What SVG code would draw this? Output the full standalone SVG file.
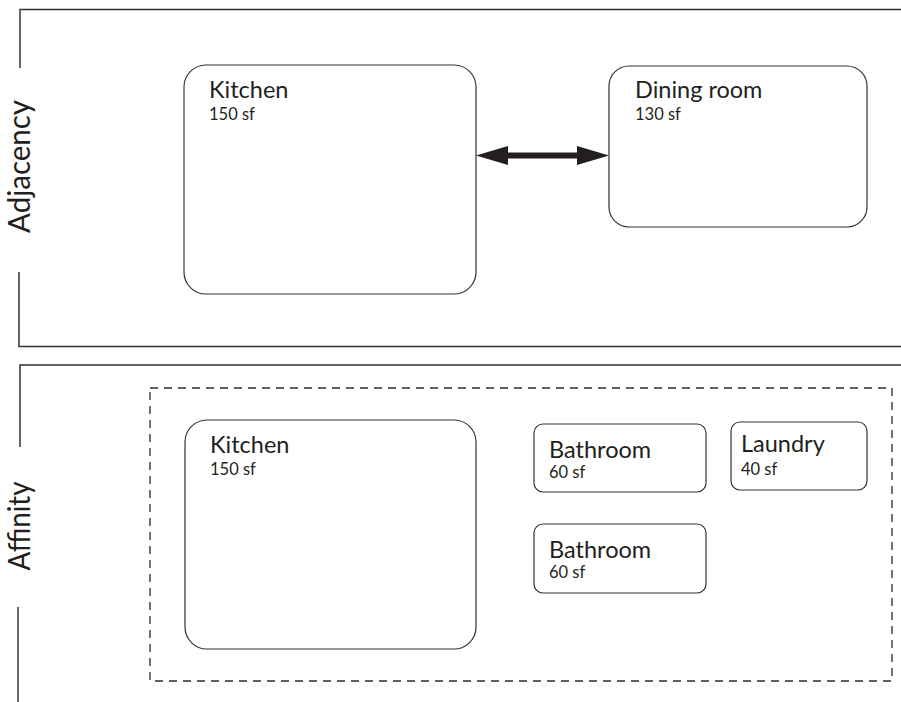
<svg xmlns="http://www.w3.org/2000/svg" width="901" height="702" viewBox="0 0 901 702">
  <style>
    .frame { fill: none; stroke: #333; stroke-width: 1.5; }
    .room { fill: #fff; stroke: #333; stroke-width: 1.2; }
    .group { fill: none; stroke: #2b2b2b; stroke-width: 1.3; stroke-dasharray: 8 6; }
    .name { font-family: Lato, "Liberation Sans", sans-serif; font-size: 23.5px; fill: #231f20; }
    .area { font-family: Lato, "Liberation Sans", sans-serif; font-size: 16.5px; fill: #231f20; }
    .section { font-family: Lato, "Liberation Sans", sans-serif; font-size: 30px; fill: #231f20; }
  </style>

  <!-- Adjacency section frame -->
  <g id="adjacency-frame">
    <polyline class="frame" points="901,9.5 20,9.5 20,68"/>
    <polyline class="frame" points="19,272 19,346.5 901,346.5"/>
    <text class="section" transform="translate(30,166.5) rotate(-90)" text-anchor="middle" textLength="133" lengthAdjust="spacingAndGlyphs">Adjacency</text>
  </g>

  <!-- Affinity section frame -->
  <g id="affinity-frame">
    <polyline class="frame" points="901,365 20,365 20,447"/>
    <line class="frame" x1="18" y1="607" x2="18" y2="702"/>
    <text class="section" transform="translate(30,526) rotate(-90)" text-anchor="middle" textLength="89" lengthAdjust="spacingAndGlyphs">Affinity</text>
  </g>

  <!-- Affinity grouping -->
  <g id="affinity-group">
    <rect class="group" x="150" y="388" width="742" height="293"/>
  </g>

  <!-- Adjacency rooms -->
  <g id="kitchen-adjacency">
    <rect class="room" x="184" y="65" width="292" height="229" rx="22"/>
    <text class="name" x="209" y="98">Kitchen</text>
    <text class="area" x="209" y="120">150 sf</text>
  </g>
  <g id="dining-room">
    <rect class="room" x="609" y="66" width="258" height="161" rx="20"/>
    <text class="name" x="635" y="98">Dining room</text>
    <text class="area" x="635" y="120">130 sf</text>
  </g>

  <!-- Affinity rooms -->
  <g id="kitchen-affinity">
    <rect class="room" x="185" y="420" width="291" height="229" rx="22"/>
    <text class="name" x="210" y="453">Kitchen</text>
    <text class="area" x="210" y="475">150 sf</text>
  </g>
  <g id="bathroom-1">
    <rect class="room" x="534" y="424" width="172" height="68" rx="9"/>
    <text class="name" x="549" y="458">Bathroom</text>
    <text class="area" x="549" y="478">60 sf</text>
  </g>
  <g id="laundry">
    <rect class="room" x="731" y="422" width="136" height="68" rx="9"/>
    <text class="name" x="741" y="452">Laundry</text>
    <text class="area" x="741" y="475">40 sf</text>
  </g>
  <g id="bathroom-2">
    <rect class="room" x="534" y="524" width="172" height="69" rx="9"/>
    <text class="name" x="549" y="558">Bathroom</text>
    <text class="area" x="549" y="578">60 sf</text>
  </g>

  <!-- Connectors -->
  <g id="connectors">
    <polygon fill="#231f20" points="476,155.5 508,146 508,152.5 577,152.5 577,146 609,155.5 577,165 577,158.5 508,158.5 508,165"/>
  </g>
</svg>
